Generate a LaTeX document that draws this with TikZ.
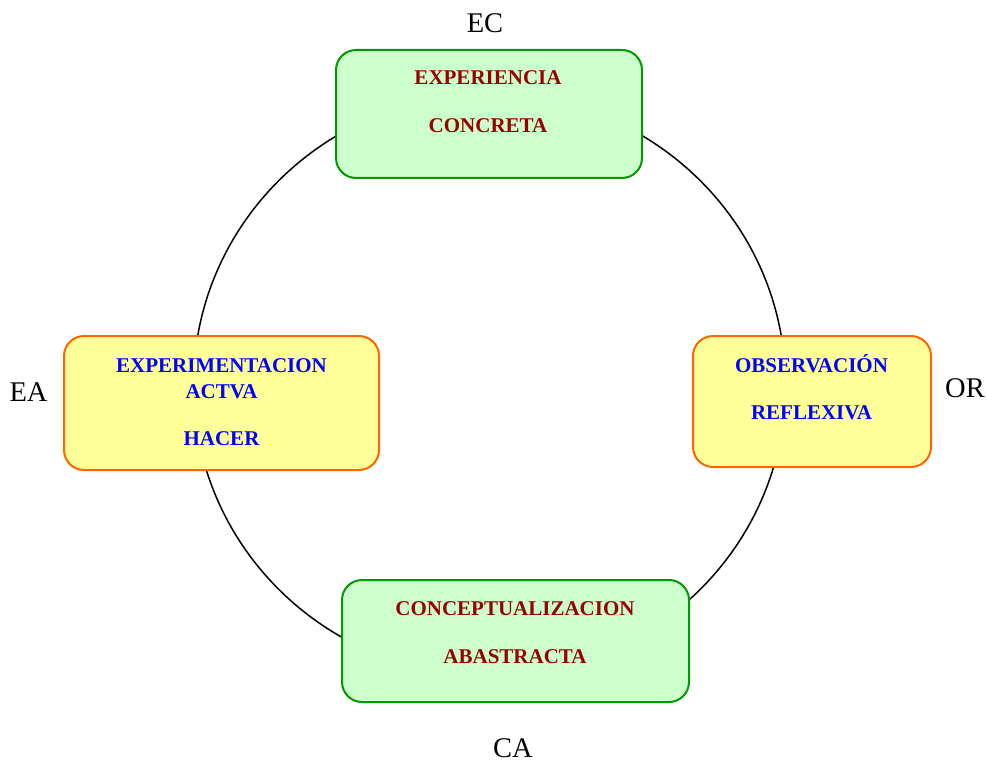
\documentclass[tikz,border=0pt]{standalone}
\usepackage{fontspec}
\setmainfont{Liberation Serif}
\definecolor{boxgreen}{HTML}{CCFFCC}
\definecolor{edgegreen}{HTML}{009900}
\definecolor{boxyellow}{HTML}{FFFF99}
\definecolor{edgeorange}{HTML}{FF6600}
\definecolor{darkred}{HTML}{990000}
\definecolor{textblue}{HTML}{0000FF}
\begin{document}
\begin{tikzpicture}[x=1pt,y=-1pt,
  greenbox/.style={draw=edgegreen,fill=boxgreen,line width=2pt,rounded corners=20pt},
  yellowbox/.style={draw=edgeorange,fill=boxyellow,line width=2pt,rounded corners=20pt},
  redtxt/.style={anchor=base,inner sep=0pt,text=darkred,font=\fontsize{21}{25}\selectfont\bfseries},
  bluetxt/.style={anchor=base,inner sep=0pt,text=textblue,font=\fontsize{21}{25}\selectfont\bfseries},
  lbl/.style={anchor=base,inner sep=0pt,font=\fontsize{28.5}{32}\selectfont}]
\useasboundingbox (0,0) rectangle (987,762);
% cycle
\draw[line width=1.5pt] (489.5,385) ellipse [x radius=296, y radius=291];
% boxes
\draw[greenbox] (336,50) rectangle (642,178);
\draw[yellowbox] (64,336) rectangle (379,470);
\draw[yellowbox] (693,336) rectangle (931,467);
\draw[greenbox] (342,580) rectangle (689,702);
% texts
\node[redtxt] (ec1) at (488,85) {EXPERIENCIA};
\node[redtxt] (ec2) at (488,133) {CONCRETA};
\node[bluetxt] (ea1) at (221.5,372) {EXPERIMENTACION};
\node[bluetxt] (ea2) at (221.5,398) {ACTVA};
\node[bluetxt] (ea3) at (221.5,445) {HACER};
\node[bluetxt] (or1) at (811.5,372) {OBSERVACIÓN};
\node[bluetxt] (or2) at (811.5,419) {REFLEXIVA};
\node[redtxt] (ca1) at (515,615) {CONCEPTUALIZACION};
\node[redtxt] (ca2) at (515,663) {ABASTRACTA};
% labels
\node[lbl] (ec) at (485,33) {EC};
\node[lbl] (ea) at (28.5,401) {EA};
\node[lbl] (or) at (965,397) {OR};
\node[lbl] (ca) at (513,757) {CA};
\end{tikzpicture}
\end{document}
